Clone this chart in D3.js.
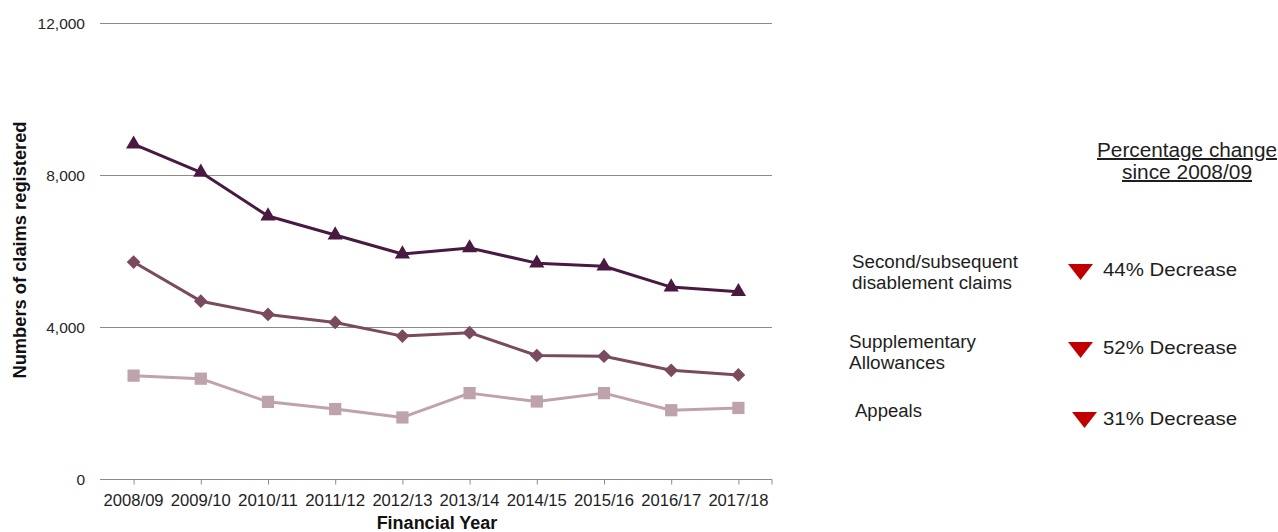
<!DOCTYPE html>
<html>
<head>
<meta charset="utf-8">
<script src="https://cdn.jsdelivr.net/npm/d3@7"></script>
<style>
  html, body { margin: 0; padding: 0; background: #fff; }
  svg { display: block; font-family: "Liberation Sans", Arial, sans-serif; }
</style>
</head>
<body>
<svg id="chart" width="1278" height="532"></svg>
<script>
const categories = ["2008/09","2009/10","2010/11","2011/12","2012/13","2013/14","2014/15","2015/16","2016/17","2017/18"];
const secondClaims = [8810, 8070, 6920, 6420, 5920, 6080, 5680, 5600, 5050, 4930];
const supplementary = [5710, 4680, 4330, 4120, 3760, 3850, 3250, 3230, 2860, 2740];
const appeals = [2720, 2640, 2030, 1840, 1620, 2260, 2040, 2260, 1810, 1870];
const yTicks = [0, 4000, 8000, 12000];
const seriesNames = ["Second/subsequent disablement claims", "Supplementary Allowances", "Appeals"];
const changeLabels = ["44% Decrease", "52% Decrease", "31% Decrease"];

const svg = d3.select("#chart");
const x = d3.scaleBand().domain(categories).range([100, 772]).paddingInner(0).paddingOuter(0);
const y = d3.scaleLinear().domain([0, 12000]).range([479, 23]);
const cx = d => x(d) + x.bandwidth() / 2;

// gridlines
svg.append("g").selectAll("line").data(yTicks.filter(t => t > 0)).join("line")
  .attr("x1", 100).attr("x2", 772)
  .attr("y1", d => Math.round(y(d)) + 0.5).attr("y2", d => Math.round(y(d)) + 0.5)
  .attr("stroke", "#8a8a8a").attr("stroke-width", 1);

// y tick labels
svg.append("g").selectAll("text").data(yTicks).join("text")
  .attr("x", 85).attr("y", d => y(d) + 5.5)
  .attr("text-anchor", "end").attr("font-size", 15.5).attr("fill", "#262626")
  .text(d => d3.format(",")(d));

// x axis
const xAxis = d3.axisBottom(d3.scalePoint().domain(categories).range([cx(categories[0]), cx(categories[categories.length-1])]))
  .tickSize(5).tickFormat("");
const gx = svg.append("g").attr("transform", `translate(0,${Math.round(y(0)) + 0.5})`).call(xAxis);
gx.select(".domain").remove();
gx.selectAll(".tick line").attr("stroke", "#8a8a8a");
gx.append("line").attr("x1", 100).attr("x2", 772).attr("stroke", "#8a8a8a");
gx.append("line").attr("x1", 772).attr("x2", 772).attr("y2", 5).attr("stroke", "#8a8a8a");

svg.append("g").selectAll("text").data(categories).join("text")
  .attr("x", d => cx(d)).attr("y", 506)
  .attr("text-anchor", "middle").attr("font-size", 16).attr("fill", "#1e1e1e")
  .attr("textLength", 60).attr("lengthAdjust", "spacingAndGlyphs")
  .text(d => d);

// axis titles
svg.append("text").attr("x", 437).attr("y", 529).attr("text-anchor", "middle")
  .attr("font-size", 18).attr("font-weight", "bold").attr("fill", "#111")
  .text("Financial Year");
svg.append("text").attr("transform", "translate(26,250) rotate(-90)").attr("text-anchor", "middle")
  .attr("font-size", 18).attr("font-weight", "bold").attr("fill", "#111")
  .attr("textLength", 257).attr("lengthAdjust", "spacingAndGlyphs")
  .text("Numbers of claims registered");

// series
const series = [
  { values: appeals, color: "#bfa3ac", symbol: d3.symbolSquare, size: 150 },
  { values: supplementary, color: "#7a4a5f", symbol: d3.symbolDiamond2, size: 120 },
  { values: secondClaims, color: "#4a1942", symbol: d3.symbolTriangle, size: 100 }
];
const line = d3.line().x((d, i) => cx(categories[i])).y(d => y(d));
series.forEach(s => {
  const g = svg.append("g");
  g.append("path").datum(s.values).attr("d", line)
    .attr("fill", "none").attr("stroke", s.color).attr("stroke-width", 3).attr("stroke-linejoin", "round");
  g.selectAll("path.m").data(s.values).join("path").attr("class", "m")
    .attr("transform", (d, i) => `translate(${cx(categories[i])},${y(d)})`)
    .attr("d", d3.symbol().type(s.symbol).size(s.size))
    .attr("fill", s.color);
});

// right-hand annotation
const ann = svg.append("g").attr("fill", "#1e1e1e");
ann.append("text").attr("x", 1187).attr("y", 157).attr("text-anchor", "middle").attr("font-size", 20)
  .attr("text-decoration", "underline").attr("textLength", 180).attr("lengthAdjust", "spacingAndGlyphs")
  .text("Percentage change");
ann.append("text").attr("x", 1187).attr("y", 179).attr("text-anchor", "middle").attr("font-size", 20)
  .attr("text-decoration", "underline").attr("textLength", 130).attr("lengthAdjust", "spacingAndGlyphs")
  .text("since 2008/09");

const labelLines = [
  { x: 852, lines: [["Second/subsequent", 268, 166], ["disablement claims", 289, 160]] },
  { x: 849, lines: [["Supplementary", 348, 127], ["Allowances", 369, 96]] },
  { x: 855, lines: [["Appeals", 417, 67]] }
];
labelLines.forEach((l, i) => {
  const t = ann.append("text").attr("font-size", 18).attr("aria-label", seriesNames[i]);
  l.lines.forEach(([txt, yy, w]) => {
    t.append("tspan").attr("x", l.x).attr("y", yy)
      .attr("textLength", w).attr("lengthAdjust", "spacingAndGlyphs").text(txt);
  });
});

const triY = [272, 350, 420];
const triX = [1080.5, 1080.5, 1084.5];
const textY = [276, 354, 425];
changeLabels.forEach((lab, i) => {
  ann.append("path")
    .attr("d", `M${triX[i]-12.5},${triY[i]-8} L${triX[i]+12.5},${triY[i]-8} L${triX[i]},${triY[i]+8} Z`)
    .attr("fill", "#c00000");
  ann.append("text").attr("x", 1103).attr("y", textY[i]).attr("font-size", 19)
    .attr("textLength", 134).attr("lengthAdjust", "spacingAndGlyphs").text(lab);
});
</script>
</body>
</html>
